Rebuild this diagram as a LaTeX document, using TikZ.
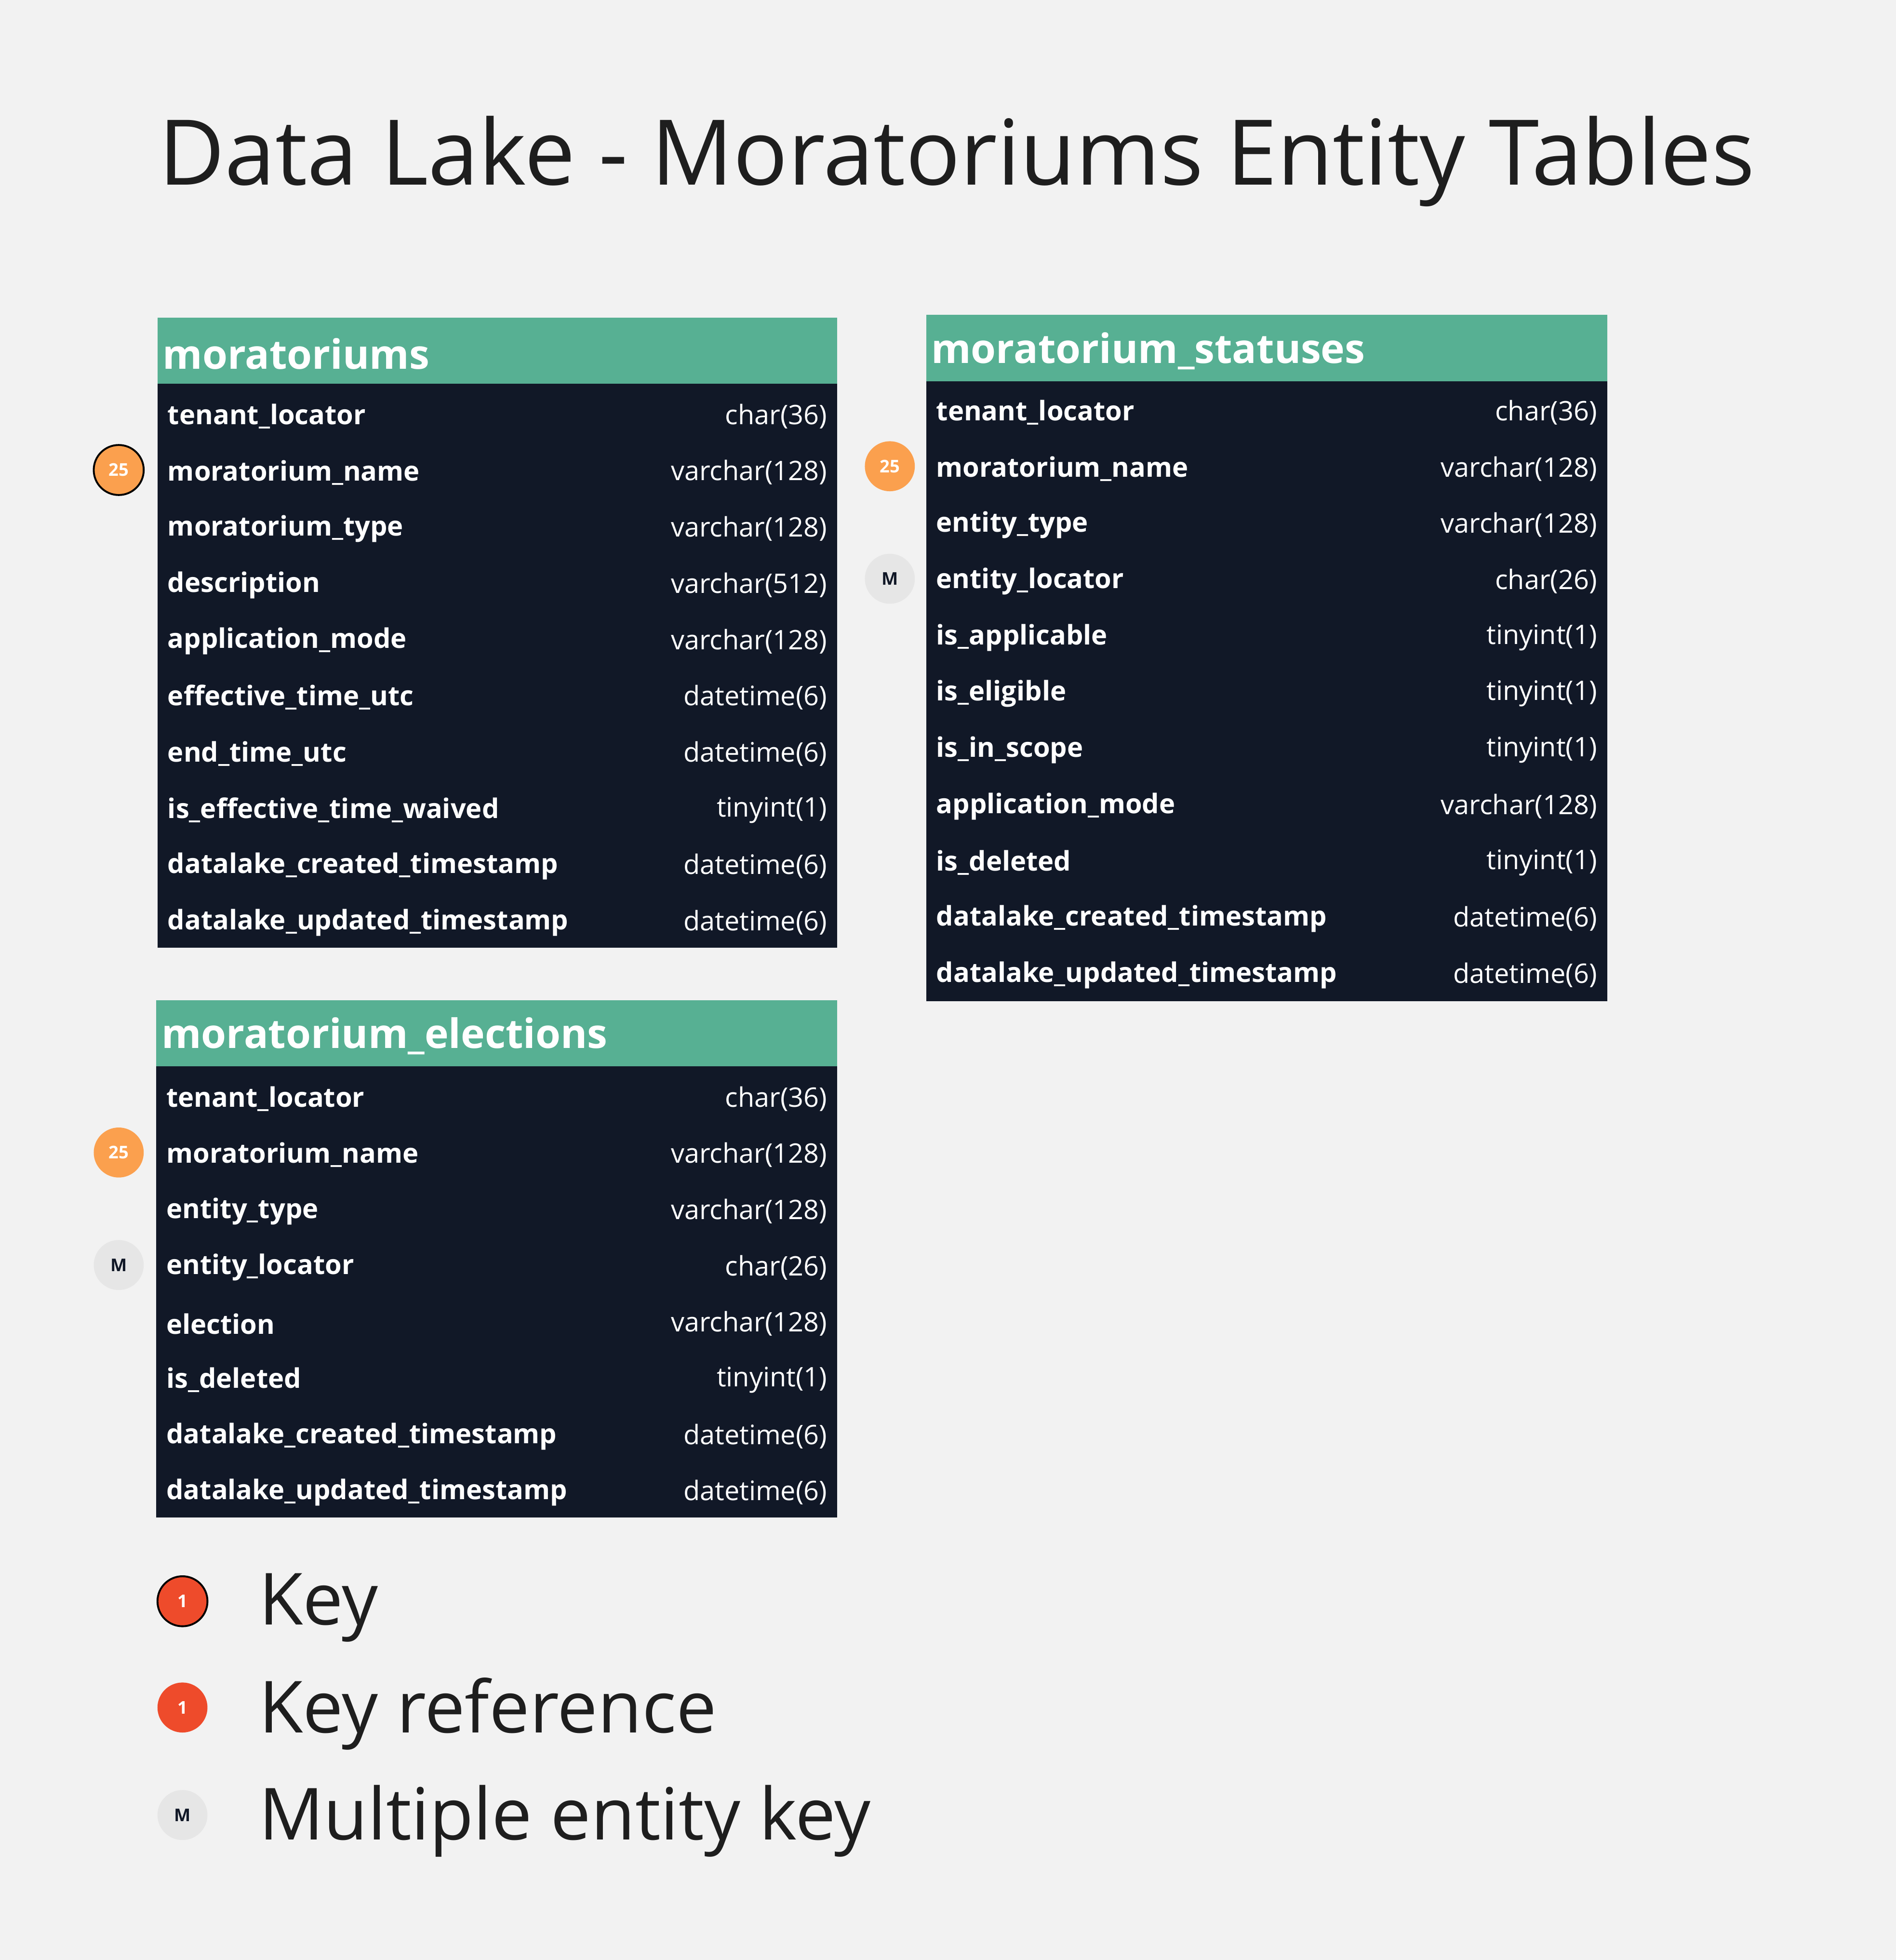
\documentclass[tikz,border=0pt]{standalone}
\usepackage{fontspec}
\setmainfont{Open Sans}
\definecolor{bg}{HTML}{F2F2F2}
\definecolor{hdr}{HTML}{57B093}
\definecolor{body}{HTML}{111827}
\definecolor{org}{HTML}{FBA04E}
\definecolor{kred}{HTML}{EE4B2B}
\definecolor{mgr}{HTML}{E6E6E6}
\definecolor{txt}{HTML}{1E1E1E}
\begin{document}
\begin{tikzpicture}[x=1pt,y=-1pt,
  hd/.style={anchor=west,text=white,font=\fontsize{32.4}{36}\selectfont\bfseries,inner sep=0},
  fn/.style={anchor=west,text=white,font=\fontsize{21.6}{24}\selectfont\bfseries,inner sep=0},
  ft/.style={anchor=east,text=white,font=\fontsize{21.5}{24}\selectfont,inner sep=0},
  badge/.style={circle,minimum size=40,inner sep=0,font=\fontsize{14}{16}\selectfont\bfseries},
  lg/.style={anchor=west,text=txt,font=\fontsize{57.5}{66}\selectfont,inner sep=0}]
\fill[bg] (0,0) rectangle (1517,1568);
\useasboundingbox (0,0) rectangle (1517,1568);
\node[anchor=base west,text=txt,font=\fontsize{72.5}{80}\selectfont,inner sep=0] (title) at (127,148) {Data Lake - Moratoriums Entity Tables};
% table 1
\fill[hdr] (126,254) rectangle (670,307);
\fill[body] (126,307) rectangle (670,758);
\node[hd] (t1) at (130,283) {moratoriums};
\foreach \n/\t [count=\i from 0] in {tenant\_locator/char(36),moratorium\_name/varchar(128),moratorium\_type/varchar(128),description/varchar(512),application\_mode/varchar(128),effective\_time\_utc/datetime(6),end\_time\_utc/datetime(6),is\_effective\_time\_waived/tinyint(1),datalake\_created\_timestamp/datetime(6),datalake\_updated\_timestamp/datetime(6)}{
  \node[fn] (t1n\i) at (134,333+45*\i) {\n};
  \node[ft] (t1t\i) at (662,333+45*\i) {\t};
}
% table 2
\fill[hdr] (741,252) rectangle (1286,305);
\fill[body] (741,305) rectangle (1286,801);
\node[hd] (t2) at (745,281) {moratorium\_statuses};
\foreach \n/\t [count=\i from 0] in {tenant\_locator/char(36),moratorium\_name/varchar(128),entity\_type/varchar(128),entity\_locator/char(26),is\_applicable/tinyint(1),is\_eligible/tinyint(1),is\_in\_scope/tinyint(1),application\_mode/varchar(128),is\_deleted/tinyint(1),datalake\_created\_timestamp/datetime(6),datalake\_updated\_timestamp/datetime(6)}{
  \node[fn] (t2n\i) at (749,330+45*\i) {\n};
  \node[ft] (t2t\i) at (1278,330+45*\i) {\t};
}
% table 3
\fill[hdr] (125,800) rectangle (670,853);
\fill[body] (125,853) rectangle (670,1214);
\node[hd] (t3) at (129,829) {moratorium\_elections};
\foreach \n/\t [count=\i from 0] in {tenant\_locator/char(36),moratorium\_name/varchar(128),entity\_type/varchar(128),entity\_locator/char(26),election/varchar(128),is\_deleted/tinyint(1),datalake\_created\_timestamp/datetime(6),datalake\_updated\_timestamp/datetime(6)}{
  \node[fn] (t3n\i) at (133,879+45*\i) {\n};
  \node[ft] (t3t\i) at (662,879+45*\i) {\t};
}
% badges
\node[badge,fill=org,draw=black,line width=1.5,text=white] (b1) at (95,376) {25};
\node[badge,fill=org,text=white] (b2) at (712,373) {25};
\node[badge,fill=mgr,text=body] (b3) at (712,463) {M};
\node[badge,fill=org,text=white] (b4) at (95,922) {25};
\node[badge,fill=mgr,text=body] (b5) at (95,1012) {M};
% legend
\node[badge,fill=kred,draw=black,line width=1.5,text=white] (l1) at (146,1281) {1};
\node[badge,fill=kred,text=white] (l2) at (146,1366) {1};
\node[badge,fill=mgr,text=body] (l3) at (146,1452) {M};
\node[lg] (lt1) at (207,1286) {Key};
\node[lg] (lt2) at (207,1371) {Key reference};
\node[lg] (lt3) at (207,1457) {Multiple entity key};
\end{tikzpicture}
\end{document}
